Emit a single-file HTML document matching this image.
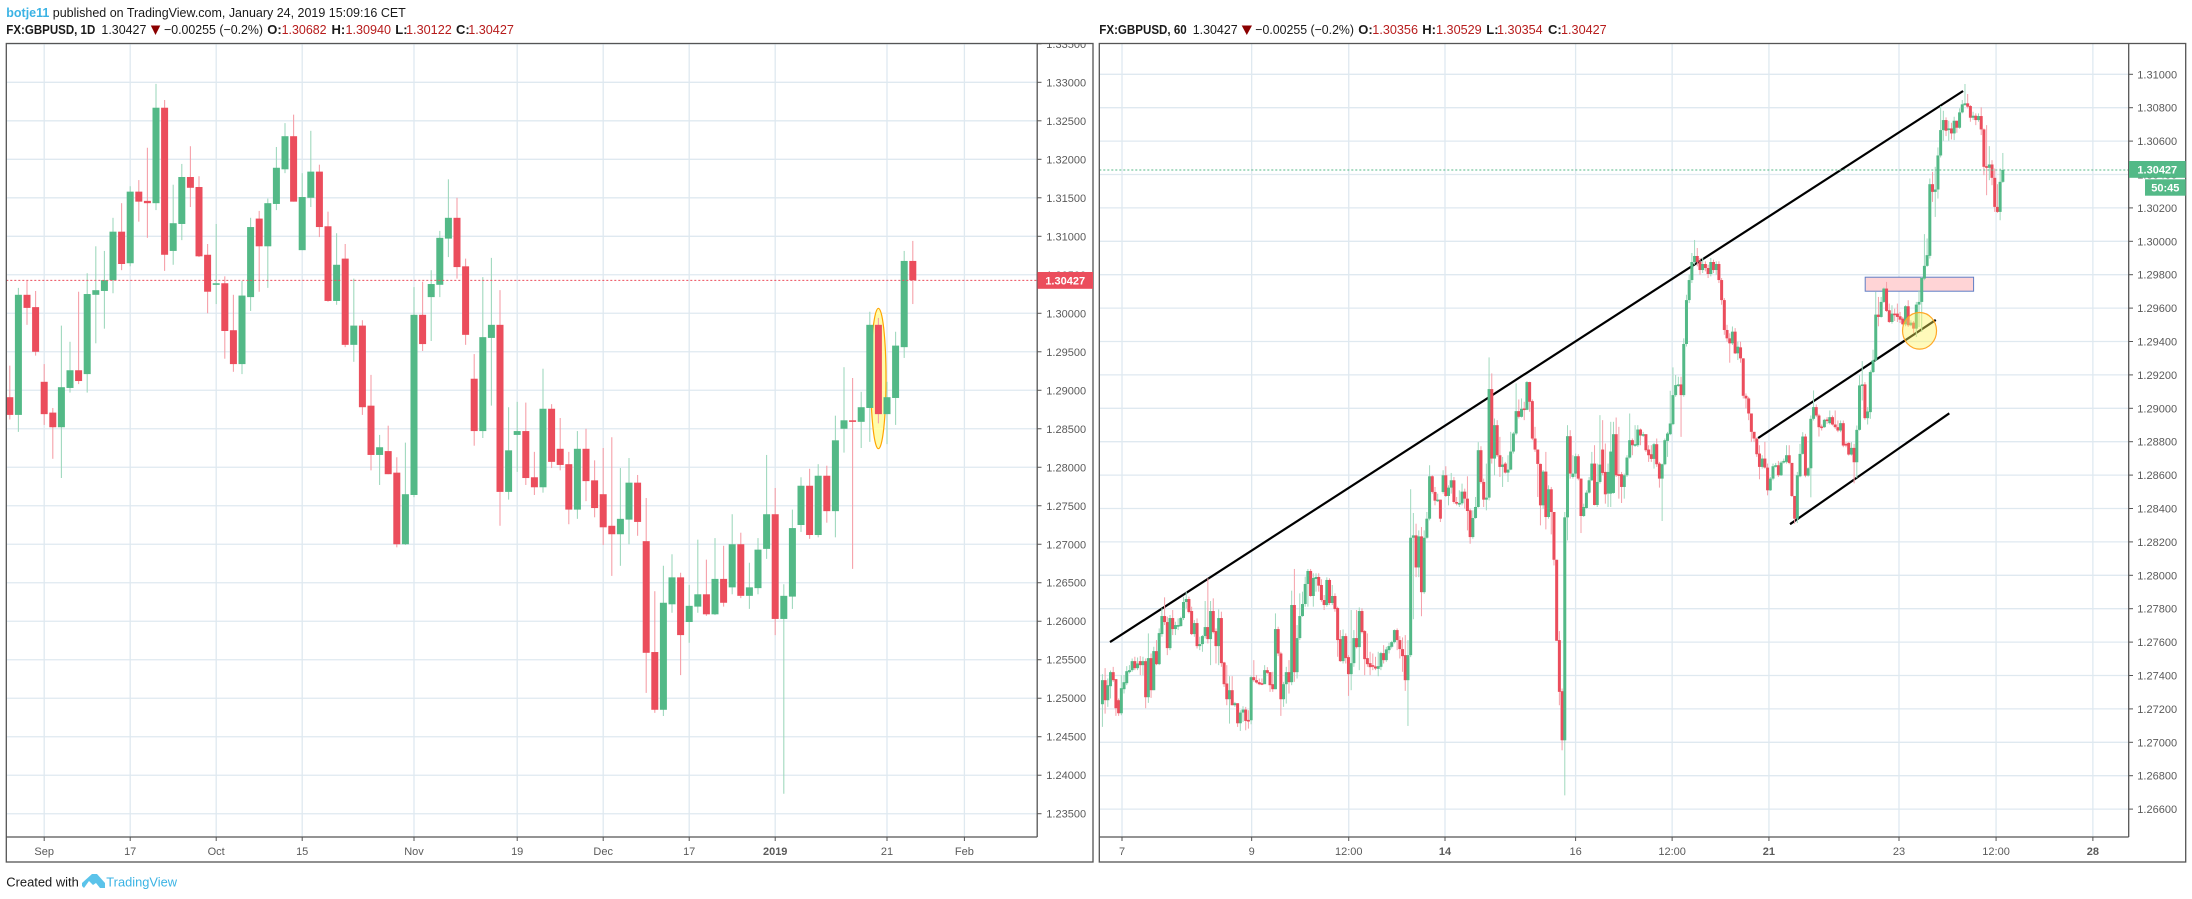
<!DOCTYPE html>
<html lang="en">
<head>
<meta charset="utf-8">
<title>GBPUSD daily and hourly charts</title>
<style>
html,body{margin:0;padding:0;background:#fff;width:2192px;height:899px;overflow:hidden}
svg{display:block;font-family:"Liberation Sans",sans-serif}
.hdr{font-size:13px;fill:#1a1a1a}
.hb{font-size:13px;font-weight:bold;fill:#1a1a1a}
.val{font-size:13px;fill:#b71c1c}
.tk{font-size:11px;fill:#5a5a5a}
</style>
</head>
<body>
<svg id="chart" xmlns="http://www.w3.org/2000/svg" width="2192" height="899" viewBox="0 0 2192 899">
  <defs>
    <clipPath id="clipL"><rect x="6.5" y="44" width="1030.5" height="793"/></clipPath>
    <clipPath id="clipR"><rect x="1099.6" y="44" width="1029" height="793"/></clipPath>
    <clipPath id="clipLA"><rect x="1037" y="44" width="56" height="793"/></clipPath>
    <clipPath id="clipRA"><rect x="2129" y="44" width="56.5" height="793"/></clipPath>
  </defs>

  <text class="hdr" y="17" x="6.3" textLength="399.5" lengthAdjust="spacingAndGlyphs"><tspan fill="#3bb3e4" font-weight="bold">botje11</tspan> published on TradingView.com, January 24, 2019 15:09:16 CET</text>

  <g>
    <text class="hb" x="6.3" y="34" textLength="89" lengthAdjust="spacingAndGlyphs">FX:GBPUSD, 1D</text>
    <text class="hdr" x="101.4" y="34" textLength="45" lengthAdjust="spacingAndGlyphs">1.30427</text>
    <polygon points="150.8,25.5 160.3,25.5 155.5,35" fill="#8b0000"/>
    <text class="hdr" x="164" y="34" textLength="99" lengthAdjust="spacingAndGlyphs">−0.00255 (−0.2%)</text>
    <text class="hb" x="267.3" y="34">O:</text>
    <text class="val" x="281.6" y="34" textLength="45" lengthAdjust="spacingAndGlyphs">1.30682</text>
    <text class="hb" x="331.5" y="34">H:</text>
    <text class="val" x="345.5" y="34" textLength="45.5" lengthAdjust="spacingAndGlyphs">1.30940</text>
    <text class="hb" x="395.3" y="34">L:</text>
    <text class="val" x="406" y="34" textLength="45.8" lengthAdjust="spacingAndGlyphs">1.30122</text>
    <text class="hb" x="456" y="34">C:</text>
    <text class="val" x="468.2" y="34" textLength="45.7" lengthAdjust="spacingAndGlyphs">1.30427</text>
  </g>

  <g>
    <text class="hb" x="1099.3" y="34" textLength="87.4" lengthAdjust="spacingAndGlyphs">FX:GBPUSD, 60</text>
    <text class="hdr" x="1192.7" y="34" textLength="45" lengthAdjust="spacingAndGlyphs">1.30427</text>
    <polygon points="1241.7,25.5 1252,25.5 1246.8,35" fill="#8b0000"/>
    <text class="hdr" x="1255.3" y="34" textLength="98.7" lengthAdjust="spacingAndGlyphs">−0.00255 (−0.2%)</text>
    <text class="hb" x="1358.3" y="34">O:</text>
    <text class="val" x="1372.3" y="34" textLength="45.7" lengthAdjust="spacingAndGlyphs">1.30356</text>
    <text class="hb" x="1422.3" y="34">H:</text>
    <text class="val" x="1436" y="34" textLength="45.7" lengthAdjust="spacingAndGlyphs">1.30529</text>
    <text class="hb" x="1486.3" y="34">L:</text>
    <text class="val" x="1497" y="34" textLength="45.7" lengthAdjust="spacingAndGlyphs">1.30354</text>
    <text class="hb" x="1548" y="34">C:</text>
    <text class="val" x="1561" y="34" textLength="45.7" lengthAdjust="spacingAndGlyphs">1.30427</text>
  </g>

  <g id="leftPane" clip-path="url(#clipL)"></g>
  <g id="rightPane" clip-path="url(#clipR)"></g>
  <g id="leftAxis"></g>
  <g id="rightAxis"></g>

  <rect x="6.3" y="43.5" width="1086.7" height="818.5" fill="none" stroke="#555" stroke-width="1.3"/>
  <rect x="1099.3" y="43.5" width="1086.4" height="818.5" fill="none" stroke="#555" stroke-width="1.3"/>
  <line x1="1037.2" y1="43.5" x2="1037.2" y2="837" stroke="#555" stroke-width="1.3"/>
  <line x1="6.3" y1="837" x2="1037.2" y2="837" stroke="#555" stroke-width="1.3"/>
  <line x1="2128.7" y1="43.5" x2="2128.7" y2="837" stroke="#555" stroke-width="1.3"/>
  <line x1="1099.3" y1="837" x2="2128.7" y2="837" stroke="#555" stroke-width="1.3"/>

  <g>
    <rect x="1037.5" y="272" width="55.5" height="16.8" fill="#eb4d5c"/>
    <text x="1065.2" y="284.3" text-anchor="middle" font-size="11" font-weight="bold" fill="#fff">1.30427</text>
  </g>
  <g>
    <rect x="2129" y="161" width="56.7" height="16.8" fill="#53b987"/>
    <text x="2157.3" y="173.4" text-anchor="middle" font-size="11" font-weight="bold" fill="#fff">1.30427</text>
    <rect x="2145" y="179.3" width="40.7" height="16.4" fill="#53b987"/>
    <text x="2165.3" y="191.6" text-anchor="middle" font-size="11" font-weight="bold" fill="#fff">50:45</text>
  </g>

  <g>
    <text class="hdr" x="6.3" y="886.5" textLength="72.5" lengthAdjust="spacingAndGlyphs">Created with</text>
    <path d="M82 886 L82 883 L92 874 L97 874 L105 883 L105 888 L100 888 L96 883 L93 885 L89 881 L84 888 Z" fill="#5bc3ea"/>
    <text x="106.3" y="886.5" font-size="13" fill="#3bb3e4" textLength="70.7" lengthAdjust="spacingAndGlyphs">TradingView</text>
  </g>
</svg>

<script>
/* ---------- daily chart data (price in pips, 1 pip = 0.0001) ---------- */
const leftOpen = [12891,12868,13024,13008,12911,12871,12852,12903,12926,12921,13024,13029,13043,13106,13065,13158,13146,13143,13267,13081,13116,13177,13164,13076,13037,13039,12978,12934,13021,13123,13087,13142,13187,13230,13082,13150,13184,13113,13016,13071,12959,12984,12880,12816,12821,12793,12700,12764,12998,13021,13037,13097,13124,13061,12915,12847,12968,12985,12768,12842,12847,12787,12774,12876,12824,12804,12745,12824,12783,12765,12724,12713,12732,12780,12704,12560,12485,12622,12657,12599,12619,12635,12609,12655,12644,12700,12633,12643,12694,12739,12603,12632,12725,12776,12712,12789,12743,12850,12861,12859,12877,12985,12869,12890,12956,13068];
const leftHigh = [12932,13033,13042,13029,12934,12877,12984,12963,13028,13052,13087,13081,13124,13143,13165,13173,13215,13298,13277,13167,13194,13217,13178,13090,13116,13048,13024,13042,13124,13133,13149,13216,13247,13258,13182,13237,13193,13132,13104,13090,13045,12991,12920,12842,12854,12813,12832,13034,13041,13056,13107,13174,13150,13071,12947,13047,13072,13030,12878,12885,12884,12820,12928,12882,12864,12820,12847,12850,12809,12825,12839,12799,12812,12790,12760,12639,12672,12687,12663,12647,12706,12680,12708,12698,12739,12715,12676,12708,12816,12773,12648,12745,12787,12798,12804,12802,12867,12930,12916,12898,13002,12994,12911,12976,13081,13094];
const leftLow = [12862,12846,12985,12945,12855,12811,12786,12897,12908,12897,12961,12980,13026,13056,13061,13119,13098,13134,13055,13063,13095,13138,13073,13000,13012,12941,12924,12921,13003,13028,13033,13134,13182,13145,13082,13138,13099,13015,13011,12956,12937,12868,12796,12777,12791,12696,12699,12761,12951,12964,13021,13073,13045,12959,12828,12838,12880,12724,12758,12794,12777,12764,12767,12799,12796,12726,12733,12756,12735,12699,12659,12672,12700,12711,12507,12481,12477,12611,12530,12572,12611,12607,12608,12619,12635,12630,12616,12635,12681,12582,12376,12616,12716,12707,12709,12728,12709,12819,12668,12825,12833,12857,12830,12855,12942,13012];
const leftClose = [12868,13024,13007,12950,12869,12852,12904,12926,12912,13025,13030,13043,13106,13064,13158,13145,13143,13267,13076,13117,13177,13163,13074,13028,13039,12977,12934,13023,13112,13087,13143,13189,13230,13145,13151,13184,13112,13016,13063,12959,12984,12878,12816,12826,12791,12700,12765,12998,12960,13038,13098,13124,13060,12972,12847,12969,12985,12768,12822,12847,12786,12774,12876,12807,12803,12745,12824,12782,12747,12722,12713,12733,12780,12729,12559,12485,12624,12657,12582,12620,12635,12609,12655,12624,12700,12633,12644,12693,12739,12603,12633,12721,12776,12712,12789,12743,12835,12861,12859,12878,12985,12869,12891,12958,13068,13043];

const leftPriceLabels = ["1.33500","1.33000","1.32500","1.32000","1.31500","1.31000","1.30500","1.30000","1.29500","1.29000","1.28500","1.28000","1.27500","1.27000","1.26500","1.26000","1.25500","1.25000","1.24500","1.24000","1.23500"];
const leftDateLabels = ["Sep","17","Oct","15","Nov","19","Dec","17","2019","21","Feb"];
const leftDateBars = [4,14,24,34,47,59,69,79,89,102,111];
const leftLastPrice = 1.30427;

/* ---------- hourly chart data (price in points, 1 point = 0.00001) ---------- */
const rightOpen = [
127228,127372,127252,127336,127420,127378,127252,127174,127318,127354,
127420,127432,127486,127444,127486,127462,127486,127270,127504,127312,
127546,127468,127648,127756,127720,127564,127744,127678,127692,127696,
127744,127840,127858,127786,127648,127714,127576,127588,127636,127690,
127618,127786,127666,127576,127744,127478,127352,127258,127312,127222,
127234,127114,127178,127196,127134,127132,127390,127372,127360,127354,
127348,127432,127420,127348,127318,127678,127532,127258,127348,127420,
127360,127822,127420,127624,127756,127828,127948,128026,127876,127978,
127990,127942,127852,127822,127972,127834,127876,127804,127618,127486,
127636,127510,127408,127474,127624,127570,127786,127666,127504,127474,
127462,127454,127440,127452,127534,127492,127552,127572,127600,127672,
127612,127558,127522,127372,127522,128225,128239,128047,128233,127899,
128225,128339,128593,128499,128447,128453,128499,128599,128475,128525,
128569,128439,128427,128431,128501,128459,128389,128229,128343,128409,
128749,128559,128453,128465,129115,128699,128899,128719,128649,128669,
128615,128633,128741,128849,128983,128949,128999,128991,129157,129043,
128819,128753,128667,128419,128621,128349,128515,128379,128093,127612,
127306,127012,128347,128833,128589,128609,128713,128579,128355,128403,
128495,128569,128669,128421,128559,128753,128619,128489,128489,128493,
128845,128605,128605,128529,128599,128705,128809,128779,128779,128873,
128837,128845,128753,128725,128697,128785,128669,128579,128665,128805,
128845,128905,129079,129135,129143,129079,129385,129648,129768,129876,
129912,129876,129828,129864,129840,129804,129876,129828,129864,129768,
129648,129469,129419,129389,129459,129329,129365,129299,129075,129059,
128969,128859,128819,128729,128649,128699,128645,128509,128579,128653,
128659,128599,128675,128679,128719,128673,128475,128339,128593,128727,
128831,128597,128641,128937,129007,128957,128891,128887,128933,128911,
128947,128903,128887,128867,128911,128787,128793,128723,128763,128677,
128871,129137,129143,128941,128977,129217,129287,129561,129547,129637,
129717,129587,129517,129567,129567,129551,129537,129503,129611,129497,
129513,129477,129621,129637,129777,129853,129913,130342,130296,130310,
130514,130666,130726,130666,130676,130646,130722,130680,130772,130820,
130826,130810,130740,130752,130726,130750,130670,130450,130440,130460,
130380,130206,130176,130356];
const rightHigh = [
127408,127444,127382,127430,127452,127378,127262,127402,127402,127456,
127462,127502,127512,127508,127516,127512,127502,127652,127532,127572,
127612,127682,127802,127868,127752,127762,127792,127722,127742,127752,
127872,127902,127872,127812,127732,127742,127632,127642,127846,127982,
127846,127862,127682,127796,127782,127482,127462,127396,127396,127242,
127234,127192,127216,127212,127192,127400,127492,127402,127382,127382,
127462,127450,127420,127422,127772,127692,127542,127362,127452,127492,
127908,128038,127702,127892,127902,127992,128038,128038,128012,128012,
128012,127976,127882,127988,127982,127942,127892,127812,127672,127676,
127652,127522,127792,127672,127792,127808,127802,127672,127652,127542,
127532,127512,127542,127542,127582,127572,127596,127608,127676,127682,
127636,127628,127642,127612,128515,128373,128309,128269,128289,128269,
128379,128659,128599,128529,128489,128453,128629,128653,128539,128613,
128589,128469,128509,128549,128519,128593,128399,128389,128469,128797,
128773,128579,128669,129305,129209,128939,128929,128829,128709,128679,
128719,128859,128859,129149,129053,129059,129039,129163,129159,129053,
128889,128753,128669,128630,128739,128539,128529,128379,128093,127666,
127322,128379,128899,128869,128719,128729,128725,128579,128429,128509,
128589,128739,128779,128669,128959,128929,128789,128669,128919,128919,
128945,128889,128619,128609,128719,128969,128819,128899,128899,128879,
128859,128845,128779,128779,128793,128819,128679,128669,128819,128859,
129105,129245,129199,129189,129189,129419,129680,129800,129930,130008,
129960,129900,129900,129880,129860,129900,129890,129880,129880,129780,
129660,129500,129449,129490,129480,129399,129399,129300,129089,129069,
128969,128859,128825,128779,128719,128799,128669,128589,128669,128673,
128685,128685,128699,128779,128779,128673,128475,128619,128787,128857,
128847,128647,128957,129107,129023,128967,128903,128937,128947,128987,
128957,128987,128927,128927,128927,128797,128797,128797,128787,128897,
129197,129283,129157,129007,129227,129351,129697,129667,129667,129723,
129757,129627,129617,129597,129627,129577,129547,129617,129647,129527,
129523,129637,129707,129787,130043,130017,130376,130416,130446,130562,
130810,130782,130742,130722,130710,130746,130722,130796,130846,130942,
130882,130816,130776,130766,130766,130802,130676,130696,130570,130486,
130436,130342,130436,130529];
const rightLow = [
127092,127172,127212,127262,127362,127158,127158,127162,127292,127342,
127412,127422,127432,127432,127402,127402,127204,127236,127266,127312,
127462,127462,127632,127702,127522,127552,127642,127642,127672,127692,
127732,127802,127772,127642,127632,127562,127552,127542,127622,127592,
127462,127652,127472,127462,127452,127332,127222,127112,127222,127212,
127092,127068,127122,127072,127082,127108,127362,127352,127342,127342,
127348,127408,127302,127302,127318,127516,127158,127212,127232,127292,
127342,127362,127382,127612,127752,127812,127812,127872,127812,127902,
127902,127842,127792,127812,127822,127822,127782,127512,127482,127472,
127472,127278,127312,127452,127562,127432,127652,127402,127452,127402,
127432,127432,127396,127432,127472,127482,127532,127562,127592,127552,
127502,127422,127308,127098,127510,127737,127989,127989,127755,127889,
128219,128329,128489,128419,128439,128319,128489,128469,128419,128489,
128429,128419,128409,128419,128399,128269,128189,128219,128339,128405,
128549,128409,128389,128449,128669,128599,128709,128589,128529,128609,
128559,128629,128729,128839,128939,128945,128929,128989,128979,128809,
128739,128469,128299,128399,128275,128339,128245,128059,127608,127222,
126952,126682,128209,128579,128579,128589,128569,128253,128349,128399,
128489,128565,128419,128409,128549,128599,128429,128409,128409,128489,
128589,128459,128433,128459,128589,128699,128719,128769,128769,128779,
128829,128739,128679,128679,128639,128649,128525,128325,128659,128709,
128839,128899,129069,129129,128829,129069,129370,129630,129750,129860,
129850,129800,129810,129820,129780,129790,129810,129800,129750,129620,
129440,129399,129273,129379,129325,129289,129273,129059,129000,128929,
128799,128799,128709,128575,128639,128639,128479,128505,128569,128645,
128589,128595,128669,128669,128665,128469,128309,128313,128587,128723,
128587,128591,128467,128927,128947,128831,128867,128883,128907,128903,
128897,128877,128857,128857,128767,128767,128717,128717,128551,128583,
128867,129047,128931,128903,128937,129211,129283,129491,129543,129631,
129577,129511,129507,129523,129517,129511,129497,129491,129487,129491,
129451,129427,129487,129457,129767,129847,129897,130236,130146,130256,
130502,130602,130630,130602,130610,130606,130650,130674,130766,130810,
130796,130716,130726,130696,130716,130636,130396,130276,130366,130336,
130176,130170,130126,130350];
const rightClose = [
127372,127252,127342,127420,127372,127204,127174,127324,127360,127426,
127432,127486,127444,127472,127462,127486,127270,127504,127312,127546,
127468,127654,127756,127720,127564,127744,127678,127702,127702,127744,
127840,127858,127780,127648,127714,127576,127588,127636,127690,127618,
127786,127660,127576,127744,127474,127348,127258,127312,127222,127234,
127114,127178,127196,127128,127130,127390,127372,127358,127348,127348,
127432,127416,127342,127318,127678,127532,127258,127348,127420,127360,
127822,127420,127624,127756,127828,127948,128026,127876,127984,127990,
127938,127852,127822,127972,127834,127876,127798,127612,127486,127636,
127504,127408,127474,127624,127570,127786,127660,127498,127468,127450,
127452,127442,127456,127534,127492,127556,127576,127600,127672,127612,
127558,127516,127372,127522,128225,128239,128047,128233,127899,128225,
128339,128593,128499,128447,128453,128339,128599,128475,128525,128569,
128439,128429,128433,128501,128459,128385,128229,128343,128409,128749,
128559,128453,128465,129115,128699,128899,128719,128649,128663,128615,
128633,128741,128849,128983,128949,128997,128991,129157,129039,128819,
128753,128667,128419,128621,128349,128515,128379,128093,127608,127302,
127012,128347,128833,128609,128609,128713,128579,128355,128409,128495,
128569,128669,128421,128559,128663,128613,128485,128619,128741,128845,
128599,128595,128529,128599,128705,128809,128779,128785,128873,128837,
128845,128749,128719,128697,128785,128665,128579,128665,128809,128849,
128909,129079,129139,129143,129079,129385,129648,129768,129876,129912,
129876,129828,129864,129840,129804,129876,129828,129864,129768,129648,
129469,129419,129389,129459,129329,129369,129299,129075,129059,128969,
128859,128819,128725,128649,128699,128645,128509,128579,128653,128659,
128599,128675,128685,128719,128673,128475,128339,128599,128727,128831,
128597,128641,128937,129007,128957,128887,128885,128931,128927,128947,
128903,128887,128867,128911,128777,128777,128723,128763,128677,128871,
129137,129143,128941,128981,129217,129287,129561,129547,129637,129717,
129583,129517,129567,129563,129547,129531,129503,129611,129497,129513,
129477,129621,129637,129781,129853,129917,130342,130296,130310,130514,
130666,130726,130662,130676,130646,130722,130680,130772,130820,130826,
130806,130740,130752,130726,130750,130670,130446,130440,130460,130380,
130206,130176,130356,130427];

const rightPriceLabels = ["1.31000","1.30800","1.30600","1.30400","1.30200","1.30000","1.29800","1.29600","1.29400","1.29200","1.29000","1.28800","1.28600","1.28400","1.28200","1.28000","1.27800","1.27600","1.27400","1.27200","1.27000","1.26800","1.26600"];
const rightDateLabels = ["7","9","12:00","14","16","12:00","21","23","12:00","28"];
const rightDateBars = [7.25,55.2,91.1,126.7,175,210.7,246.5,294.6,330.5,366.3];
const rightLastPrice = 1.30427;

/* ---------- hourly chart drawings: bar index + price anchors ---------- */
const upperTrend = [[2.8,1.2760],[318.3,1.30900]];
const channelTop = [[242.5,1.28822],[308.2,1.29529]];
const channelBottom = [[254.3,1.28306],[313.2,1.28970]];

/* ---------- axis functions ---------- */
function yLeft(p){ return 159.3 + (1.32 - p) * 7699; }
function xLeft(i){ return 9.8 + 8.6 * i; }
function yRight(p){ return 241.3 + (1.30 - p) * 16700; }
function xRight(i){ return 1102.4 + 2.704 * i; }

const NS = 'http://www.w3.org/2000/svg';
const GREEN = '#53b987', RED = '#eb4d5c', GREEN_W = '#a0d9be', RED_W = '#f5a0a9', GRID = '#dfe9f0';
function make(parent, tag, attrs){
  const el = document.createElementNS(NS, tag);
  for (const k in attrs) el.setAttribute(k, attrs[k]);
  parent.appendChild(el);
  return el;
}

const leftPane = document.getElementById('leftPane');
const rightPane = document.getElementById('rightPane');
const leftAxis = document.getElementById('leftAxis');
const rightAxis = document.getElementById('rightAxis');

/* --- daily grid and axes --- */
leftPriceLabels.forEach(function(label){
  const y = yLeft(parseFloat(label));
  const g = make(leftPane, 'line', {x1:6.3, x2:1037, y1:y, y2:y, stroke:GRID, 'stroke-width':1.3});
  
  
  const t = make(leftAxis, 'line', {x1:1037.2, x2:1041.5, y1:y, y2:y, stroke:'#555', 'stroke-width':1, 'clip-path':'url(#clipLA)'});
  
  
  const txt = make(leftAxis, 'text', {x:1046.3, y:y + 4, class:'tk', 'clip-path':'url(#clipLA)'});
  txt.textContent = label;
  
  
});
leftDateLabels.forEach(function(label, k){
  const x = xLeft(leftDateBars[k]);
  const g = make(leftPane, 'line', {x1:x, x2:x, y1:44, y2:837, stroke:GRID, 'stroke-width':1.3});
  
  
  const t = make(leftAxis, 'line', {x1:x, x2:x, y1:837, y2:841, stroke:'#555', 'stroke-width':1});
  
  
  const txt = make(leftAxis, 'text', {x:x, y:855, 'text-anchor':'middle', class:'tk'});
  if (label === '2019') txt.setAttribute('font-weight', 'bold');
  txt.textContent = label;
  
  
});

/* --- daily highlight ellipse sits under the candles --- */
const dailyEllipse = make(leftPane, 'ellipse', {cx:xLeft(101), cy:yLeft(1.29153), rx:7.6, ry:70.2, fill:'#fffcaa', stroke:'#ffa500', 'stroke-width':1.2});



/* --- daily candles --- */
leftOpen.forEach(function(open, i){
  const o = open / 1e4, c = leftClose[i] / 1e4, h = leftHigh[i] / 1e4, l = leftLow[i] / 1e4;
  const up = c >= o, x = xLeft(i);
  const wick = make(leftPane, 'line', {x1:x, x2:x, y1:yLeft(h), y2:yLeft(l), stroke:up ? GREEN_W : RED_W, 'stroke-width':1.1});
  
  
  const top = yLeft(Math.max(o, c));
  const body = make(leftPane, 'rect', {x:x - 3.5, y:top, width:7, height:Math.max(1.6, yLeft(Math.min(o, c)) - top), fill:up ? GREEN : RED});
  
  
});

const dailyLast = make(leftPane, 'line', {x1:6.3, x2:1037, y1:yLeft(leftLastPrice), y2:yLeft(leftLastPrice), stroke:RED, 'stroke-width':1, 'stroke-dasharray':'2 2'});



/* --- hourly grid and axes --- */
rightPriceLabels.forEach(function(label){
  const y = yRight(parseFloat(label));
  const g = make(rightPane, 'line', {x1:1099.3, x2:2128.7, y1:y, y2:y, stroke:GRID, 'stroke-width':1.3});
  
  
  const t = make(rightAxis, 'line', {x1:2128.7, x2:2133, y1:y, y2:y, stroke:'#555', 'stroke-width':1});
  
  
  const txt = make(rightAxis, 'text', {x:2137.3, y:y + 4, class:'tk'});
  txt.textContent = label;
  
  
});
rightDateLabels.forEach(function(label, k){
  const x = xRight(rightDateBars[k]);
  const g = make(rightPane, 'line', {x1:x, x2:x, y1:44, y2:837, stroke:GRID, 'stroke-width':1.3});
  
  
  const t = make(rightAxis, 'line', {x1:x, x2:x, y1:837, y2:841, stroke:'#555', 'stroke-width':1});
  
  
  const txt = make(rightAxis, 'text', {x:x, y:855, 'text-anchor':'middle', class:'tk'});
  if (label === '14' || label === '21' || label === '28') txt.setAttribute('font-weight', 'bold');
  txt.textContent = label;
  
  
});

/* --- hourly drawings under the candles --- */
const resistanceBox = make(rightPane, 'rect', {x:xRight(282.1), y:yRight(1.29785), width:108.4, height:14, fill:'#ffd4d6', stroke:'#5f7ec4', 'stroke-width':1});



const trend1 = make(rightPane, 'line', {x1:xRight(upperTrend[0][0]), y1:yRight(upperTrend[0][1]), x2:xRight(upperTrend[1][0]), y2:yRight(upperTrend[1][1]), stroke:'#000', 'stroke-width':2.2});


const trend2 = make(rightPane, 'line', {x1:xRight(channelTop[0][0]), y1:yRight(channelTop[0][1]), x2:xRight(channelTop[1][0]), y2:yRight(channelTop[1][1]), stroke:'#000', 'stroke-width':2.2});


const trend3 = make(rightPane, 'line', {x1:xRight(channelBottom[0][0]), y1:yRight(channelBottom[0][1]), x2:xRight(channelBottom[1][0]), y2:yRight(channelBottom[1][1]), stroke:'#000', 'stroke-width':2.2});



/* --- hourly candles --- */
rightOpen.forEach(function(open, i){
  const o = open / 1e5, c = rightClose[i] / 1e5, h = rightHigh[i] / 1e5, l = rightLow[i] / 1e5;
  const up = c >= o, x = xRight(i);
  const wick = make(rightPane, 'line', {x1:x, x2:x, y1:yRight(h), y2:yRight(l), stroke:up ? GREEN_W : RED_W, 'stroke-width':1});
  
  
});
rightOpen.forEach(function(open, i){
  const o = open / 1e5, c = rightClose[i] / 1e5;
  const up = c >= o, x = xRight(i);
  const top = yRight(Math.max(o, c));
  const body = make(rightPane, 'rect', {x:x - 1.5, y:top, width:3, height:Math.max(1.6, yRight(Math.min(o, c)) - top), fill:up ? GREEN : RED});
  
  
});

const circle = make(rightPane, 'ellipse', {cx:xRight(302.2), cy:yRight(1.29464), rx:17, ry:18.3, fill:'#fff35a', 'fill-opacity':0.42, stroke:'#ffa726', 'stroke-width':1.2});



const hourlyLast = make(rightPane, 'line', {x1:1099.3, x2:2128.7, y1:yRight(rightLastPrice), y2:yRight(rightLastPrice), stroke:GREEN, 'stroke-width':1, 'stroke-dasharray':'2 2'});


</script>
</body>
</html>
